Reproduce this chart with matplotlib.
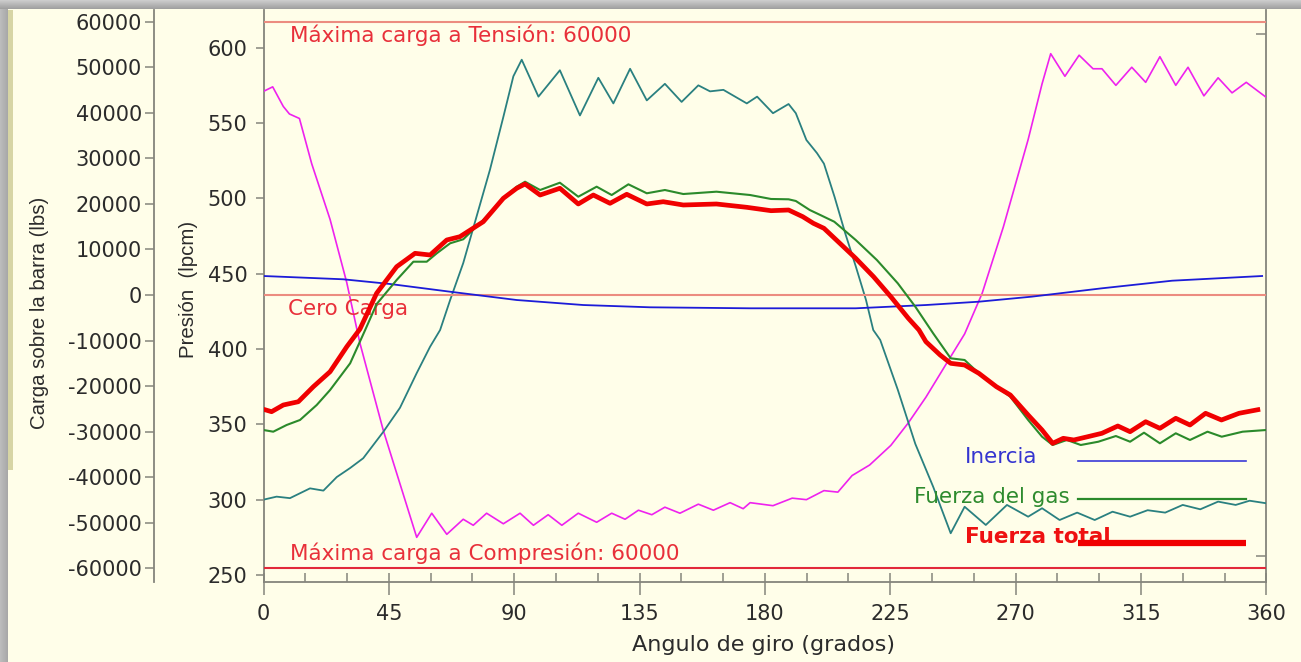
import numpy as np
import matplotlib
matplotlib.use("Agg")
import matplotlib.pyplot as plt
from matplotlib.ticker import MultipleLocator, FixedLocator, NullFormatter

# ---------------- data ----------------
# Cylinder pressure, end A (magenta), lpcm
pres_a_deg = [0, 3.3, 7.1, 9.3, 12.9, 17.3, 23.9, 29.9, 34.6, 43.0, 55.0, 60.4, 65.8, 71.7,
              75.3, 80.1, 86.1, 92.1, 96.9, 102.2, 107.1, 113.0, 119.6, 125.0, 129.8, 134.6,
              139.4, 144.1, 149.5, 156.1, 161.5, 167.5, 172.2, 174.7, 182.9, 189.8, 194.9,
              201.2, 206.2, 211.3, 217.6, 225.2, 231.5, 237.8, 245.4, 251.7, 258.0, 265.6,
              274.5, 279.5, 282.6, 287.7, 292.8, 297.8, 301.0, 306.0, 311.7, 316.7, 321.8,
              327.5, 331.9, 337.6, 342.7, 347.7, 352.8, 360]
pres_a = [571, 574, 561, 556, 553, 523, 486, 444, 404, 346, 275, 291, 277, 287,
          283, 291, 284, 291, 283, 290, 283, 291, 285, 291, 287, 293,
          290, 295, 291, 297, 293, 298, 294, 298, 296, 301, 300,
          306, 305, 316, 323, 336, 351, 368, 391, 410, 437, 481,
          539, 576, 596, 581, 595, 586, 586, 575, 587, 577, 594,
          575, 587, 568, 580, 570, 577, 567]

# Cylinder pressure, end B (teal), lpcm
pres_b_deg = [0, 4.7, 9.5, 16.7, 21.5, 26.3, 31.1, 35.8, 43.0, 49.0, 55.0, 59.8, 63.4, 67.0,
              71.7, 76.5, 81.3, 86.1, 89.7, 92.7, 98.7, 106.4, 113.6, 120.2, 125.6, 131.6,
              137.6, 144.1, 150.1, 156.1, 160.3, 165.1, 173.5, 177.2, 182.9, 188.5, 191.1,
              194.9, 198.7, 201.2, 205.0, 208.8, 212.6, 216.3, 218.9, 221.4, 227.7, 234.0,
              240.4, 246.7, 251.7, 259.3, 266.9, 274.5, 279.5, 285.8, 292.1, 298.4, 304.8,
              311.1, 317.4, 323.7, 330.0, 336.3, 342.7, 349.0, 354.0, 360]
pres_b = [300, 302, 301, 307.5, 306, 315, 321, 327.5, 345, 361, 384, 401.5, 412.6, 432.5,
          457, 488, 519, 554, 581, 592, 567.5, 585, 555, 580, 563, 586,
          565, 576, 564, 575, 571, 572, 563, 567.5, 556.5, 562.6, 556.5,
          538.7, 530, 523, 501, 477, 455, 432.5, 412.6, 406, 373, 337,
          308.6, 277.7, 295.3, 283.2, 296.5, 288.7, 294.3, 286.5, 291.4, 286.5, 292,
          288.7, 293, 291.4, 296.5, 293.6, 298.7, 296.5, 299.3, 297.6]

# Inertia load on the rod, lbs
inercia_deg = [0, 28.6, 45.4, 67.0, 90.9, 114.8, 138.7, 174.7, 212.6, 237.8, 256.8, 275.7,
               301.0, 326.2, 358.5]
inercia = [4170, 3450, 2420, 720, -1100, -2200, -2700, -2920, -2920, -2200, -1470, -370,
           1470, 3140, 4170]

# Gas load on the rod, lbs
gas_deg = [0, 3.5, 8.3, 13.1, 19.1, 23.9, 31.1, 36.5, 40.6, 47.8, 53.8, 58.6, 62.2, 67.0,
           71.7, 78.9, 86.1, 90.9, 93.9, 99.3, 106.4, 113.0, 119.6, 125.0, 131.0, 137.6,
           144.1, 150.7, 162.6, 174.7, 182.2, 188.5, 191.1, 196.1, 199.9, 204.9, 212.6,
           220.2, 227.7, 234.0, 240.4, 246.7, 251.7, 256.8, 263.1, 268.1, 274.5, 279.5,
           283.3, 288.4, 293.4, 299.7, 306.0, 311.1, 316.1, 321.8, 327.5, 332.6, 338.9,
           344.0, 351.5, 360]
gas = [-29640, -30010, -28540, -27440, -24150, -20860, -15000, -7680, -2000, 3290, 7310, 7310,
       9150, 11350, 12230, 16470, 21230, 23780, 24870, 23050, 24650, 21580, 23780, 21950,
       24300, 22330, 23050, 22170, 22680, 21950, 21080, 21010, 20640, 18660, 17560, 16090,
       12080, 7680, 2570, -2570, -8410, -13900, -14270, -17190, -20130, -22330, -27440,
       -31110, -32930, -31830, -32930, -32210, -30960, -32210, -30230, -32560, -30360,
       -31830, -30010, -31110, -30010, -29640]

# Total load on the rod, lbs
total_deg = [0, 2.9, 7.1, 12.5, 17.9, 23.9, 29.9, 34.6, 40.6, 47.8, 54.4, 59.8, 65.8, 70.5,
             78.9, 86.1, 90.9, 93.9, 99.3, 106.4, 113.0, 118.4, 124.4, 130.4, 137.6, 143.5,
             150.7, 162.6, 173.5, 182.2, 188.5, 193.6, 197.4, 201.2, 206.3, 212.6, 219.0,
             225.2, 231.5, 235.3, 237.8, 242.9, 246.7, 251.7, 256.8, 263.1, 268.1, 274.5,
             279.5, 283.3, 287.1, 290.9, 295.9, 301.0, 306.7, 311.1, 316.7, 321.8, 327.5,
             332.6, 338.2, 343.9, 350.2, 357.8]
total = [-25090, -25620, -24150, -23430, -20130, -16840, -11350, -7500, 370, 6210, 9150, 8780,
         12080, 12800, 16090, 21230, 23430, 24370, 21950, 23430, 19980, 21950, 20130, 22110,
         19980, 20480, 19760, 19980, 19250, 18510, 18660, 17190, 15740, 14640, 11700, 8060,
         4020, -370, -5120, -7680, -10250, -13170, -15000, -15370, -17190, -20130, -21950,
         -26350, -29640, -32560, -31460, -31830, -31110, -30360, -28760, -30010, -27820,
         -29270, -27070, -28540, -25970, -27440, -25970, -25090]

# Axis ticks and reference loads
angle_ticks = [0, 45, 90, 135, 180, 225, 270, 315, 360]
pres_ticks = [250, 300, 350, 400, 450, 500, 550, 600]
load_ticks = [-60000, -50000, -40000, -30000, -20000, -10000, 0,
              10000, 20000, 30000, 40000, 50000, 60000]
load_tick_labels = [str(v) for v in load_ticks]
max_tension = 60000
max_compression = -60000

# ---------------- style ----------------
W, H, DPI = 1301, 662, 100
CREAM = "#fffee9"
AXIS_GRAY = "#85857c"
TEXT_DARK = "#2b2b2b"
TICK_FS = 15
NOTE_FS = 15.5
plt.rcParams["font.family"] = ["DejaVu Sans"]
plt.rcParams["lines.solid_joinstyle"] = "round"

fig = plt.figure(figsize=(W / DPI, H / DPI), dpi=DPI, facecolor=CREAM)

# page background with a soft frame shadow
bg = np.empty((H, W, 3))
bg[:] = matplotlib.colors.to_rgb(CREAM)
for r in range(9):
    g = 0.80 - 0.17 * r / 8
    bg[r, :, :] = g
for c in range(8):
    g = 0.74 - 0.08 * c / 7
    bg[9:, c, :] = g
bg[10:470, 8:13, :] = matplotlib.colors.to_rgb("#d7d5a5")
fig.figimage(bg, xo=0, yo=0, origin="upper", zorder=-10)

px_l, px_r, px_top, px_bot = 263.5, 1266.3, 10.0, 582.3
ax = fig.add_axes([px_l / W, (H - px_bot) / H, (px_r - px_l) / W, (px_bot - px_top) / H])
ax.patch.set_visible(False)
ax.set_xlim(0, 360)
ax.set_ylim(245.15, 625.0)

axl = ax.twinx()
axl.patch.set_visible(False)
axl.set_ylim(-63074, 62569)

for a in (ax, axl):
    for s in a.spines.values():
        s.set_visible(False)
        s.set_color(AXIS_GRAY)
        s.set_linewidth(1.3)

ax.spines["left"].set_visible(True)
ax.spines["bottom"].set_visible(True)

# outer load axis on the far left
axl.yaxis.set_ticks_position("left")
axl.spines["left"].set_visible(True)
axl.spines["left"].set_position(("outward", 78.8))
axl.yaxis.set_major_locator(FixedLocator(load_ticks))
axl.set_yticklabels(load_tick_labels)
axl.tick_params(axis="y", direction="out", length=6.5, width=1.1, color=AXIS_GRAY,
                pad=2.2, labelsize=TICK_FS, labelcolor=TEXT_DARK)

# pressure axis
ax.set_yticks(pres_ticks)
ax.set_yticklabels([str(v) for v in pres_ticks])
ax.tick_params(axis="y", direction="out", length=5.8, width=1.1, color=AXIS_GRAY,
               pad=5.8, labelsize=TICK_FS, labelcolor=TEXT_DARK)

# angle axis
ax.set_xticks(angle_ticks)
ax.set_xticklabels([str(v) for v in angle_ticks])
ax.xaxis.set_minor_locator(MultipleLocator(15))
ax.xaxis.remove_overlapping_locs = False
ax.tick_params(axis="x", which="major", direction="out", length=9.4, width=1.1,
               color=AXIS_GRAY, pad=6.5, labelsize=TICK_FS, labelcolor=TEXT_DARK)
ax.tick_params(axis="x", which="minor", direction="in", length=6.5, width=1.1,
               color=AXIS_GRAY)

# right frame with two short inner marks
sec = ax.secondary_yaxis("right")
sec.spines["right"].set_color(AXIS_GRAY)
sec.spines["right"].set_linewidth(1.3)
sec.set_yticks([262.6, 609.1])
sec.yaxis.set_major_formatter(NullFormatter())
sec.tick_params(axis="y", direction="in", length=7.2, width=1.1, color=AXIS_GRAY)

# reference load lines
axl.axhline(max_tension, color="#ec8c80", lw=1.5, zorder=1)
axl.axhline(0, color="#ec8c80", lw=1.5, zorder=1)
axl.axhline(max_compression, color="#e2283a", lw=1.5, zorder=1)

red_txt = "#e8303a"
axl.text(0.0264, 0.9554, f"Máxima carga a Tensión: {max_tension}", transform=axl.transAxes,
         color=red_txt, fontsize=NOTE_FS, ha="left", va="center")
axl.text(0.0244, 0.4776, "Cero Carga", transform=axl.transAxes,
         color=red_txt, fontsize=NOTE_FS, ha="left", va="center")
axl.text(0.0264, 0.0512, f"Máxima carga a Compresión: {-max_compression}",
         transform=axl.transAxes, color=red_txt, fontsize=NOTE_FS, ha="left", va="center")

# pressure curves
ax.plot(pres_a_deg, pres_a, color="#ee22ee", lw=1.2, zorder=3)
ax.plot(pres_b_deg, pres_b, color="#2a8080", lw=1.3, zorder=3)

# load curves
axl.plot(inercia_deg, inercia, color="#1c1cd8", lw=1.3, zorder=4)
axl.plot(gas_deg, gas, color="#2b8a2b", lw=1.5, zorder=4)
axl.plot(total_deg, total, color="#f00000", lw=3.4, zorder=5, solid_capstyle="butt")

# legend drawn inside the plot
lx0, lx1 = 0.812, 0.980
axl.plot([lx0, lx1], [0.212, 0.212], transform=axl.transAxes, color="#3a3ad8", lw=1.2)
axl.plot([lx0, lx1], [0.1456, 0.1456], transform=axl.transAxes, color="#2b8a2b", lw=1.6)
axl.plot([lx0, lx1], [0.0687, 0.0687], transform=axl.transAxes, color="#f00000", lw=4.5,
         solid_capstyle="butt", zorder=3)
axl.text(0.6995, 0.219, "Inercia", transform=axl.transAxes, color="#3535d0",
         fontsize=NOTE_FS, ha="left", va="center")
axl.text(0.8042, 0.149, "Fuerza del gas", transform=axl.transAxes, color="#2e8b2e",
         fontsize=NOTE_FS, ha="right", va="center")
axl.text(0.6995, 0.0792, "Fuerza total", transform=axl.transAxes, color="#ee1111",
         fontsize=NOTE_FS, fontweight="bold", ha="left", va="center", zorder=2)

# axis titles
fig.text(40 / W, 1 - 313 / H, "Carga sobre la barra (lbs)", rotation=90,
         ha="center", va="center", fontsize=14.7, color=TEXT_DARK,
         family=["Liberation Sans", "DejaVu Sans"])
fig.text(189 / W, 1 - 289 / H, "Presión  (lpcm)", rotation=90,
         ha="center", va="center", fontsize=14.7, color=TEXT_DARK,
         family=["Liberation Sans", "DejaVu Sans"])
fig.text(763 / W, 1 - 645 / H, "Angulo de giro (grados)", ha="center", va="center",
         fontsize=16, color=TEXT_DARK)

fig.savefig("out.png", dpi=DPI, facecolor=CREAM)
